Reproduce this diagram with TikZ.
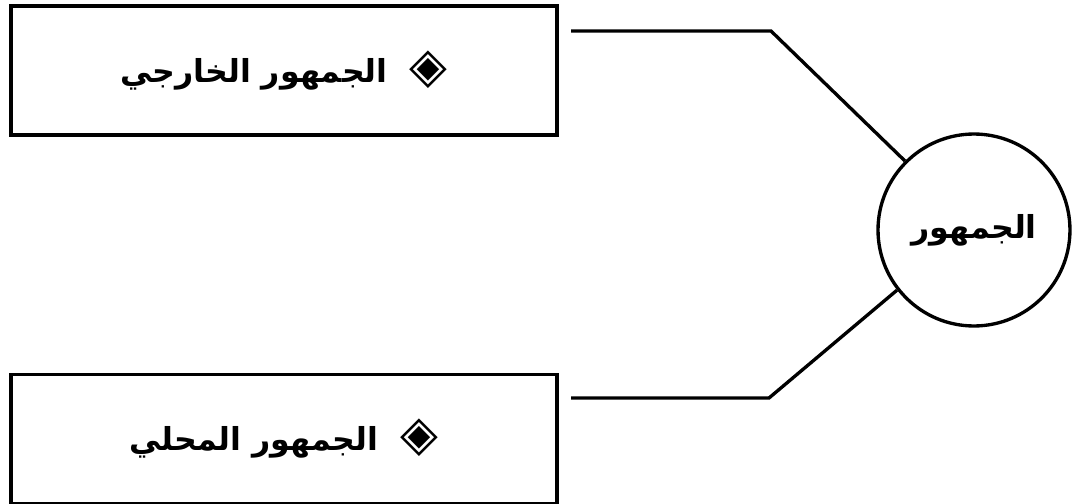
\documentclass[tikz,border=0pt]{standalone}
\usepackage{fontspec}
\newfontfamily\arabicfont[Script=Arabic]{DejaVu Sans}
\TeXXeTstate=1
\usetikzlibrary{positioning}

\begin{document}
\begin{tikzpicture}[x=0.02cm,y=-0.02cm]
\tikzstyle{every node}=[font=\arabicfont\bfseries\fontsize{18}{22}\selectfont]
\tikzstyle{box}=[draw,line width=1.9pt,minimum width=10.92cm,minimum height=2.58cm]
\tikzstyle{link}=[line width=1.9pt]
\newcommand{\bullsym}{{\fontsize{28}{28}\selectfont ◈}}
\useasboundingbox (0,0) rectangle (1073,504);
\node[box] (kharij) at (284,70.5) {\beginR\bullsym\ \ الجمهور الخارجي\endR};
\node[box] (mahalli) at (284,439) {\beginR\bullsym\ \ الجمهور المحلي\endR};
\node[draw,circle,line width=1.9pt,minimum size=3.84cm] (jumhur) at (974,230) {\beginR الجمهور\endR};
\coordinate (k1) at (571,31);
\coordinate (k2) at (771,31);
\coordinate (m1) at (571,398);
\coordinate (m2) at (769,398);
\draw[link] (k1) -- (k2) -- (jumhur.135);
\draw[link] (m1) -- (m2) -- (jumhur.218);
\end{tikzpicture}
\end{document}
